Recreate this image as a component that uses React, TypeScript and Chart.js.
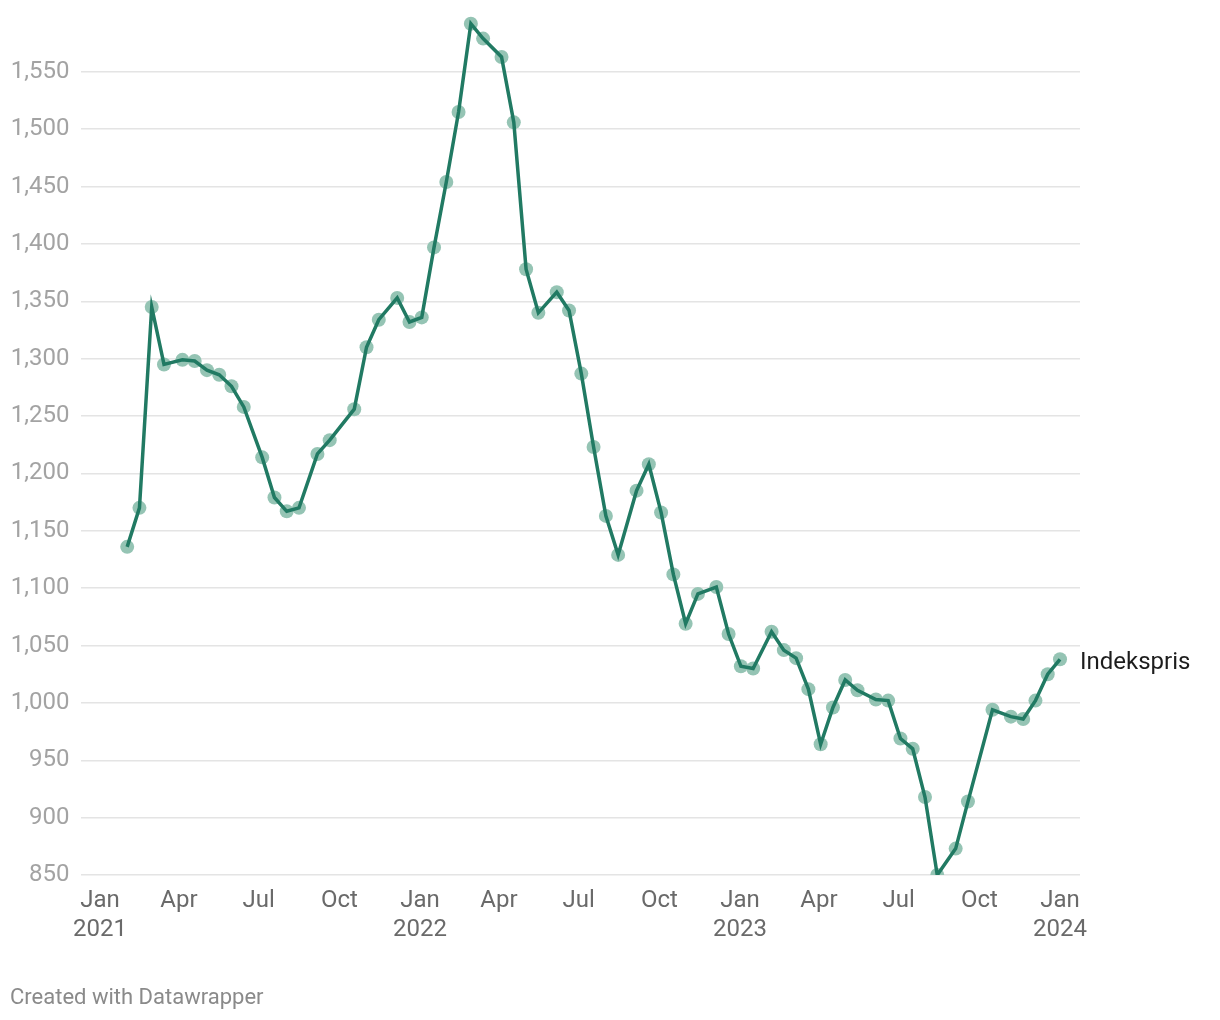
import React, { useEffect, useRef } from "react";
import { Chart, registerables } from "chart.js";

Chart.register(...registerables);

const seriesLabel = "Indekspris";

const dates = [
  "2021-02-01", "2021-02-15", "2021-03-01", "2021-03-15", "2021-04-05", "2021-04-19",
  "2021-05-03", "2021-05-17", "2021-05-31", "2021-06-14", "2021-07-05", "2021-07-19",
  "2021-08-02", "2021-08-16", "2021-09-06", "2021-09-20", "2021-10-18", "2021-11-01",
  "2021-11-15", "2021-12-06", "2021-12-20", "2022-01-03", "2022-01-17", "2022-01-31",
  "2022-02-14", "2022-02-28", "2022-03-14", "2022-04-04", "2022-04-18", "2022-05-02",
  "2022-05-16", "2022-06-06", "2022-06-20", "2022-07-04", "2022-07-18", "2022-08-01",
  "2022-08-15", "2022-09-05", "2022-09-19", "2022-10-03", "2022-10-17", "2022-10-31",
  "2022-11-14", "2022-12-05", "2022-12-19", "2023-01-02", "2023-01-16", "2023-02-06",
  "2023-02-20", "2023-03-06", "2023-03-20", "2023-04-03", "2023-04-17", "2023-05-01",
  "2023-05-15", "2023-06-05", "2023-06-19", "2023-07-03", "2023-07-17", "2023-07-31",
  "2023-08-14", "2023-09-04", "2023-09-18", "2023-10-16", "2023-11-06", "2023-11-20",
  "2023-12-04", "2023-12-18", "2024-01-01",
];

const values = [
  1136, 1170, 1345, 1295, 1299, 1298,
  1290, 1286, 1276, 1258, 1214, 1179,
  1167, 1170, 1217, 1229, 1256, 1310,
  1334, 1353, 1332, 1336, 1397, 1454,
  1515, 1592, 1579, 1563, 1506, 1378,
  1340, 1358, 1342, 1287, 1223, 1163,
  1129, 1185, 1208, 1166, 1112, 1069,
  1095, 1101, 1060, 1032, 1030, 1062,
  1046, 1039, 1012, 964, 996, 1020,
  1011, 1003, 1002, 969, 960, 918,
  850, 873, 914, 994, 988, 986,
  1002, 1025, 1038,
];

const yTickValues = [850, 900, 950, 1000, 1050, 1100, 1150, 1200, 1250, 1300, 1350, 1400, 1450, 1500, 1550];

const xTickDates = [
  "2021-01-01", "2021-04-01", "2021-07-01", "2021-10-01",
  "2022-01-01", "2022-04-01", "2022-07-01", "2022-10-01",
  "2023-01-01", "2023-04-01", "2023-07-01", "2023-10-01",
  "2024-01-01",
];
const xTickLabels: (string | string[])[] = [
  ["Jan", "2021"], "Apr", "Jul", "Oct",
  ["Jan", "2022"], "Apr", "Jul", "Oct",
  ["Jan", "2023"], "Apr", "Jul", "Oct",
  ["Jan", "2024"],
];

const DAY = 86400000;
const ORIGIN = Date.UTC(2021, 0, 1);
const toDay = (s: string) => {
  const [y, m, d] = s.split("-").map(Number);
  return (Date.UTC(y, m - 1, d) - ORIGIN) / DAY;
};

const LINE_COLOR = "#217a63";
const POINT_COLOR = "#95c4b4";

export default function App() {
  const ref = useRef<HTMLCanvasElement | null>(null);

  useEffect(() => {
    document.body.style.margin = "0";
    const canvas = ref.current;
    if (!canvas) return;

    const xs = dates.map(toDay);
    const pts = xs.map((x, i) => ({ x, y: values[i] }));
    const tickDays = xTickDates.map(toDay);
    const firstTick = tickDays[0];
    const lastTick = tickDays[tickDays.length - 1];
    const pxPerDay = (1060 - 100) / (lastTick - firstTick);

    const endLabel = {
      id: "endLabel",
      afterDatasetsDraw(chart: any) {
        const meta = chart.getDatasetMeta(0);
        const last = meta.data[meta.data.length - 1];
        if (!last) return;
        const ctx = chart.ctx;
        ctx.save();
        ctx.font = "24px Roboto";
        ctx.fillStyle = "#1d1d1d";
        ctx.textAlign = "left";
        ctx.textBaseline = "middle";
        ctx.fillText(seriesLabel, last.x + 20, last.y + 4);
        ctx.restore();
      },
    };

    const zeroPad = (scale: any) => {
      scale.paddingTop = 0;
      scale.paddingBottom = 0;
      scale.paddingLeft = 0;
      scale.paddingRight = 0;
    };

    const chart = new Chart(canvas, {
      type: "line",
      data: {
        datasets: [
          {
            label: seriesLabel,
            data: pts,
            borderColor: LINE_COLOR,
            borderWidth: 3.5,
            pointRadius: 0,
            fill: false,
            tension: 0,
          },
          {
            label: seriesLabel + " points",
            data: pts,
            showLine: false,
            pointRadius: 7,
            pointBackgroundColor: POINT_COLOR,
            pointBorderWidth: 0,
            pointBorderColor: POINT_COLOR,
          },
        ],
      },
      plugins: [endLabel],
      options: {
        animation: false,
        responsive: false,
        maintainAspectRatio: false,
        layout: { padding: { left: 0, right: 140, top: 14.5, bottom: 0 } },
        plugins: {
          legend: { display: false },
          tooltip: { enabled: false },
        },
        scales: {
          x: {
            type: "linear",
            min: firstTick - 19 / pxPerDay,
            max: lastTick + 20 / pxPerDay,
            afterBuildTicks(scale: any) {
              scale.ticks = tickDays.map((v) => ({ value: v }));
            },
            afterFit(scale: any) {
              scale.height = 1020 - 875;
              zeroPad(scale);
            },
            grid: { display: false, drawTicks: false },
            border: { display: false },
            ticks: {
              autoSkip: false,
              maxRotation: 0,
              padding: 11.5,
              color: "#6a6a6a",
              font: { family: "Roboto", size: 24, lineHeight: 1.21 },
              callback(value: any) {
                const i = tickDays.indexOf(Number(value));
                return i >= 0 ? xTickLabels[i] : "";
              },
            },
          },
          y: {
            type: "linear",
            min: 850,
            max: 1600,
            afterBuildTicks(scale: any) {
              scale.ticks = yTickValues.map((v) => ({ value: v }));
            },
            afterFit(scale: any) {
              scale.width = 81;
              zeroPad(scale);
            },
            grid: { color: "#e4e4e4", lineWidth: 1.5, drawTicks: false },
            border: { display: false },
            ticks: {
              padding: 11.5,
              color: "#a3a3a3",
              font: { family: "Roboto", size: 24 },
              callback(value: any) {
                return Number(value).toLocaleString("en-US");
              },
            },
          },
        },
      },
    });

    return () => chart.destroy();
  }, []);

  return (
    <div style={{ position: "relative", width: 1220, height: 1020 }}>
      <canvas ref={ref} width={1220} height={1020} style={{ display: "block", width: 1220, height: 1020 }} />
      <div
        style={{
          position: "absolute",
          left: 10,
          top: 984,
          fontFamily: "Roboto",
          fontSize: 22,
          lineHeight: "26px",
          color: "#8a8a8a",
          whiteSpace: "nowrap",
        }}
      >
        Created with Datawrapper
      </div>
    </div>
  );
}
